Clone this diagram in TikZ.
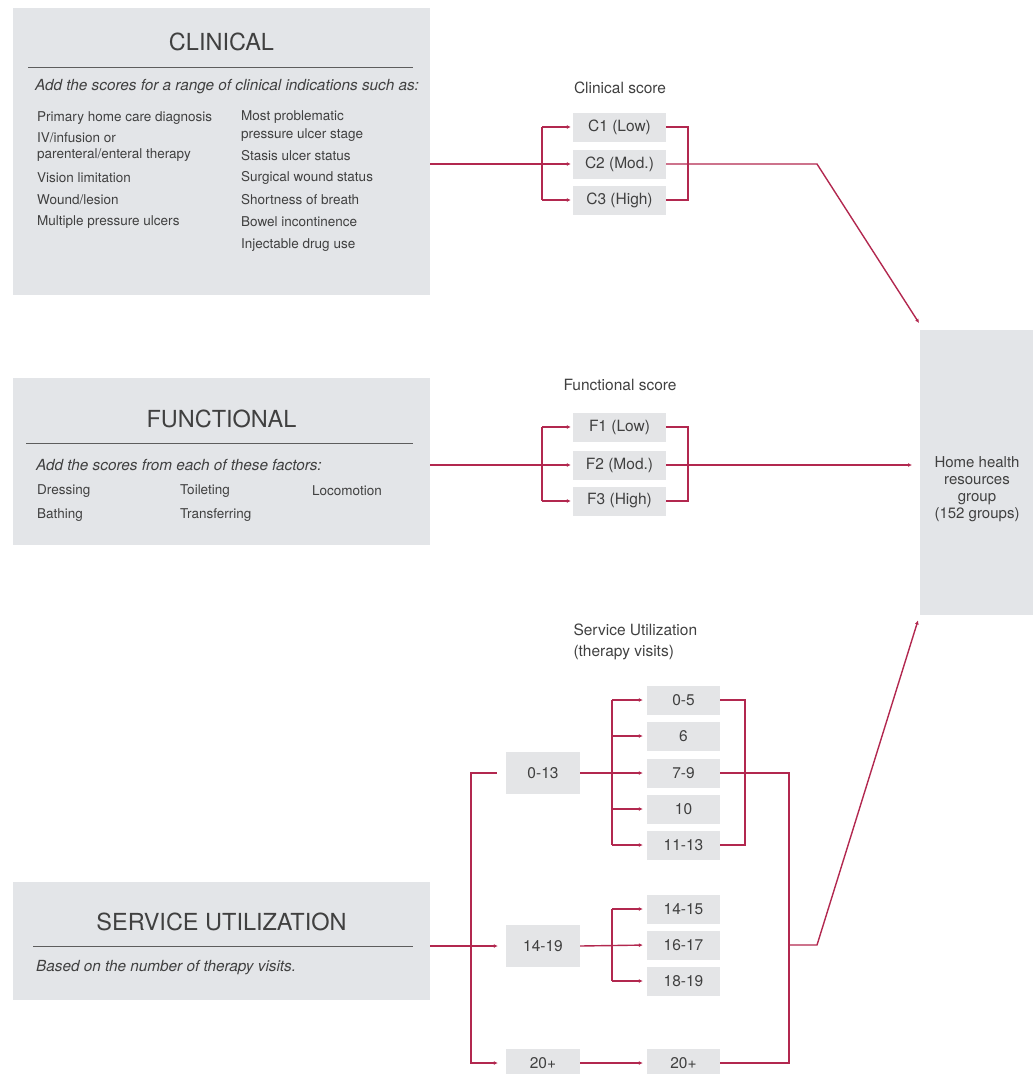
\documentclass[tikz,border=0pt]{standalone}
\usepackage{fontspec}
\setmainfont{TeX Gyre Heros}
\usetikzlibrary{arrows.meta,calc}
\definecolor{boxgray}{HTML}{E3E5E8}
\definecolor{scoregray}{HTML}{E4E5E7}
\definecolor{linered}{HTML}{B2284F}
\definecolor{txt}{HTML}{404040}
\begin{document}
\begin{tikzpicture}[x=1pt,y=-1pt,
  panel/.style={fill=boxgray,draw=none,inner sep=0pt,anchor=north west},
  ttl/.style={font=\fontsize{23.5}{27}\selectfont,text=txt},
  body/.style={font=\fontsize{13.5}{17}\selectfont,text=txt,anchor=west,inner sep=0pt},
  subt/.style={font=\fontsize{15.3}{18}\selectfont\itshape,text=txt,anchor=west,inner sep=0pt},
  lab/.style={font=\fontsize{15.5}{21}\selectfont,text=txt},
  sbox/.style={fill=scoregray,minimum width=93pt,minimum height=29pt,inner sep=0pt,font=\fontsize{15.5}{18}\selectfont,text=txt},
  nbox/.style={fill=scoregray,minimum width=73pt,minimum height=29pt,inner sep=0pt,font=\fontsize{15.5}{18}\selectfont,text=txt},
  lbox/.style={fill=scoregray,minimum width=74pt,minimum height=42pt,inner sep=0pt,font=\fontsize{15.5}{18}\selectfont,text=txt},
  conn/.style={draw=linered,line width=1.4pt},
  arr/.style={conn,-{Latex[length=4pt,width=4pt]}},
  rulestyle/.style={draw=txt!85,line width=0.8pt}
]
\useasboundingbox (0,0) rectangle (1033,1074);
\clip (0,0) rectangle (1033,1074);

% ---------- CLINICAL panel ----------
\node[panel,minimum width=417pt,minimum height=287pt] (clin) at (13,8) {};
\node[ttl] (clinT) at (221.5,42) {CLINICAL};
\draw[rulestyle] (28,67) -- (413,67);
\node[subt] (clinS) at (35,87) {Add the scores for a range of clinical indications such as:};
\node[body] (cl1) at (37,118) {Primary home care diagnosis};
\node[body] (cl2) at (37,138) {IV/infusion or};
\node[body] (cl3) at (37,155) {parenteral/enteral therapy};
\node[body] (cl4) at (37,178) {Vision limitation};
\node[body] (cl5) at (37,200) {Wound/lesion};
\node[body] (cl6) at (37,222) {Multiple pressure ulcers};
\node[body] (cr1) at (241,117) {Most problematic};
\node[body] (cr2) at (241,135) {pressure ulcer stage};
\node[body] (cr3) at (241,156) {Stasis ulcer status};
\node[body] (cr4) at (241,178) {Surgical wound status};
\node[body] (cr5) at (241,200) {Shortness of breath};
\node[body] (cr6) at (241,222) {Bowel incontinence};
\node[body] (cr7) at (241,245) {Injectable drug use};

% ---------- FUNCTIONAL panel ----------
\node[panel,minimum width=417pt,minimum height=167pt] (func) at (13,378) {};
\node[ttl] (funcT) at (221.5,419) {FUNCTIONAL};
\draw[rulestyle] (26,443) -- (413,443);
\node[subt] (funcS) at (36,465) {Add the scores from each of these factors:};
\node[body] (fa1) at (37,491) {Dressing};
\node[body] (fa2) at (37,515) {Bathing};
\node[body] (fb1) at (180,491) {Toileting};
\node[body] (fb2) at (180,515) {Transferring};
\node[body] (fc1) at (312,491) {Locomotion};

% ---------- SERVICE UTILIZATION panel ----------
\node[panel,minimum width=417pt,minimum height=118pt] (serv) at (13,882) {};
\node[ttl] (servT) at (221.5,922) {SERVICE UTILIZATION};
\draw[rulestyle] (33,946) -- (413,946);
\node[subt] (servS) at (36,968) {Based on the number of therapy visits.};

% ---------- Home health box ----------
\node[panel,minimum width=113pt,minimum height=285pt] (home) at (920,330) {};
\node[align=center,font=\fontsize{15}{17}\selectfont,text=txt,inner sep=0pt] (homeT) at (977,489) {Home health\\resources\\group\\(152 groups)};

% ---------- Clinical score ----------
\node[lab] (clab) at (620,88) {Clinical score};
\node[sbox] (c1) at (619.5,127) {C1 (Low)};
\node[sbox] (c2) at (619.5,164) {C2 (Mod.)};
\node[sbox] (c3) at (619.5,200) {C3 (High)};

% ---------- Functional score ----------
\node[lab] (flab) at (620,385) {Functional score};
\node[sbox] (f1) at (619.5,427) {F1 (Low)};
\node[sbox] (f2) at (619.5,465) {F2 (Mod.)};
\node[sbox] (f3) at (619.5,501) {F3 (High)};

% ---------- Service utilization score ----------
\node[lab,align=left,anchor=north west] (slab) at (570,620) {Service Utilization\\(therapy visits)};
\node[lbox] (s013) at (543,773) {0-13};
\node[lbox] (s1419) at (543,946) {14-19};
\node[lbox,minimum height=29pt] (s20a) at (543,1063) {20+};
\node[nbox] (s05) at (683.5,700) {0-5};
\node[nbox] (s6) at (683.5,736) {6};
\node[nbox] (s79) at (683.5,773) {7-9};
\node[nbox] (s10) at (683.5,809) {10};
\node[nbox] (s1113) at (683.5,845) {11-13};
\node[nbox] (s1415) at (683.5,909) {14-15};
\node[nbox] (s1617) at (683.5,945) {16-17};
\node[nbox] (s1819) at (683.5,981) {18-19};
\node[nbox] (s20b) at (683.5,1063) {20+};

% ---------- junction coordinates ----------
\coordinate (jc) at (542,0);
\coordinate (rc) at (688,0);
\coordinate (kc) at (817,164);
\coordinate (jv) at (471,0);
\coordinate (js) at (612,0);
\coordinate (rs) at (745,0);
\coordinate (cs) at (789,0);
\coordinate (ks) at (817,945);

% ---------- clinical connectors ----------
\draw[arr,shorten >=2pt] (clin.east |- c2) -- (c2.west);
\draw[conn] (jc |- c1) -- (jc |- c3);
\draw[arr,shorten >=2pt] (jc |- c1) -- (c1.west);
\draw[arr,shorten >=2pt] (jc |- c3) -- (c3.west);
\draw[conn] (c1.east) -- (rc |- c1) -- (rc |- c3) -- (c3.east);
\draw[arr] (c2.east) -- (kc) -- ($(home.north west)+(-1,-7)$);

% ---------- functional connectors ----------
\draw[arr,shorten >=2pt] (func.east |- f2) -- (f2.west);
\draw[conn] (jc |- f1) -- (jc |- f3);
\draw[arr,shorten >=2pt] (jc |- f1) -- (f1.west);
\draw[arr,shorten >=2pt] (jc |- f3) -- (f3.west);
\draw[conn] (f1.east) -- (rc |- f1) -- (rc |- f3) -- (f3.east);
\draw[arr,shorten >=8pt] (f2.east) -- (home.west |- f2);

% ---------- service connectors ----------
\draw[arr,shorten >=8pt] (serv.east |- s1419) -- (s1419.west);
\draw[arr,shorten >=8pt] ($(s013.west)+(-9,0)$) -- (jv |- s013) -- (jv |- s20a) -- (s20a.west);
\draw[arr,shorten >=4pt] (s013.east) -- (s79.west);
\draw[conn] (js |- s05) -- (js |- s1113);
\foreach \n in {s05,s6,s10,s1113}
  \draw[arr,shorten >=4pt] (js |- \n) -- (\n.west);
\draw[conn] (s05.east) -- (rs |- s05) -- (rs |- s1113) -- (s1113.east);
\draw[conn] (s79.east) -- (cs |- s79) -- (cs |- s20b) -- (s20b.east);
\draw[arr] (cs |- ks) -- (ks) -- ($(home.south west)+(-2,5)$);
\draw[arr,shorten >=4pt] (s1419.east) -- (s1617.west);
\draw[conn] (js |- s1415) -- (js |- s1819);
\draw[arr,shorten >=4pt] (js |- s1415) -- (s1415.west);
\draw[arr,shorten >=4pt] (js |- s1819) -- (s1819.west);
\draw[arr,shorten >=4pt] (s20a.east) -- (s20b.west);
\end{tikzpicture}
\end{document}
